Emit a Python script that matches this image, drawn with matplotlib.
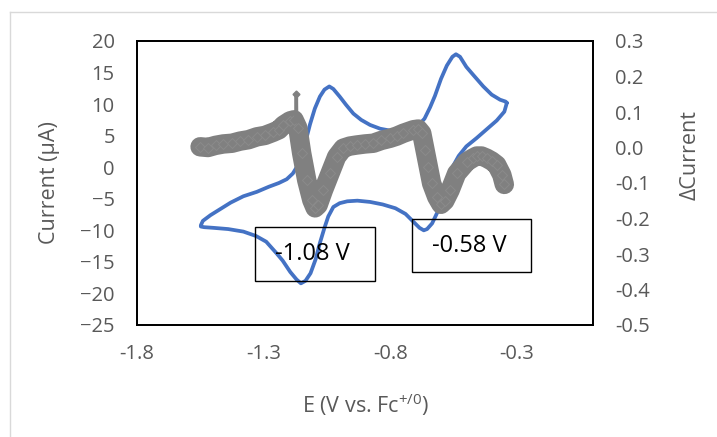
import numpy as np
import matplotlib
matplotlib.use('Agg')
import matplotlib.pyplot as plt
from matplotlib.patches import Rectangle
from matplotlib.lines import Line2D

plt.rcParams['font.family'] = ['Open Sans', 'DejaVu Sans']
plt.rcParams['mathtext.fontset'] = 'custom'
plt.rcParams['mathtext.rm'] = 'Open Sans'

# CV trace (E in V vs Fc, current in uA), cathodic sweep first then back
cv_E = [-0.340, -0.350, -0.380, -0.420, -0.460, -0.500, -0.530, -0.555, -0.575, -0.595,
        -0.615, -0.635, -0.655, -0.668, -0.685, -0.710, -0.740, -0.780, -0.830, -0.880,
        -0.930, -0.970, -1.000, -1.025, -1.045, -1.060, -1.078, -1.095, -1.115, -1.135,
        -1.153, -1.170, -1.195, -1.225, -1.250, -1.290, -1.330, -1.380, -1.440, -1.500,
        -1.535, -1.548,
        -1.548, -1.540, -1.510, -1.470, -1.430, -1.380, -1.327, -1.280, -1.240, -1.209,
        -1.185, -1.165, -1.150, -1.135, -1.117, -1.098, -1.078, -1.060, -1.041, -1.025,
        -1.000, -0.975, -0.946, -0.915, -0.880, -0.840, -0.800, -0.760, -0.720, -0.690,
        -0.665, -0.643, -0.624, -0.600, -0.577, -0.555, -0.541, -0.525, -0.500, -0.470,
        -0.433, -0.400, -0.367, -0.345, -0.340]
cv_I = [10.2, 8.8, 7.4, 6.0, 4.6, 3.3, 1.8, 0.0, -2.2, -4.8,
        -7.2, -8.9, -9.8, -10.0, -9.6, -8.6, -7.4, -6.5, -5.9, -5.5,
        -5.3, -5.4, -5.7, -6.3, -7.8, -9.6, -12.0, -14.6, -16.8, -18.0,
        -18.4, -17.8, -16.6, -14.8, -13.6, -11.8, -10.9, -10.2, -9.8, -9.6,
        -9.5, -9.4,
        -9.2, -8.5, -7.6, -6.6, -5.6, -4.6, -3.9, -3.1, -2.5, -1.9,
        -1.0, 0.3, 1.9, 4.0, 6.8, 9.3, 11.2, 12.3, 12.8, 12.4,
        11.2, 9.9, 8.5, 7.5, 6.7, 6.1, 5.8, 5.7, 6.0, 6.6,
        7.7, 9.5, 11.3, 14.0, 16.1, 17.5, 17.9, 17.5, 15.9, 14.5,
        12.8, 11.5, 10.7, 10.4, 10.2]

# derivative trace (delta current), read along the middle of the grey band
d_E = [-1.551, -1.520, -1.490, -1.459, -1.425, -1.393, -1.360, -1.327, -1.295, -1.262,
       -1.240, -1.222, -1.196, -1.180, -1.165, -1.150, -1.130, -1.110, -1.097, -1.085,
       -1.064, -1.038, -1.012, -0.986, -0.960, -0.933, -0.900, -0.867, -0.835, -0.801,
       -0.775, -0.749, -0.709, -0.690, -0.676, -0.663, -0.650, -0.637, -0.617, -0.600,
       -0.585, -0.564, -0.538, -0.498, -0.475, -0.459, -0.440, -0.420, -0.400, -0.380,
       -0.360, -0.350]
d_val = [0.002, 0.000, 0.006, 0.010, 0.012, 0.018, 0.022, 0.030, 0.034, 0.043,
         0.050, 0.063, 0.075, 0.078, 0.055, -0.016, -0.092, -0.148, -0.170, -0.162,
         -0.120, -0.073, -0.026, -0.002, 0.004, 0.007, 0.010, 0.012, 0.020, 0.026,
         0.032, 0.040, 0.050, 0.052, 0.040, -0.007, -0.054, -0.101, -0.139, -0.160,
         -0.150, -0.120, -0.073, -0.040, -0.030, -0.024, -0.024, -0.030, -0.038, -0.049,
         -0.077, -0.104]

# narrow spike just before the first drop
spike_E = [-1.172, -1.171, -1.170]
spike_val = [0.080, 0.150, 0.080]

labels = ['-1.08 V', '-0.58 V']
right_ticks = [-0.5, -0.4, -0.3, -0.2, -0.1, 0.0, 0.1, 0.2, 0.3]
right_labels = ['-0.5', '-0.4', '-0.3', '-0.2', '-0.1', '0.0', '0.1', '0.2', '0.3']

fig = plt.figure(figsize=(7.17, 4.37), dpi=100)
ax = fig.add_axes([137/717, 1-325/437, 456/717, 284/437])
ax2 = ax.twinx()

ax.plot(cv_E, cv_I, color='#4472C4', lw=2.7, solid_joinstyle='round',
        solid_capstyle='round', zorder=2)

grey = '#808080'
ax2.plot(d_E, d_val, color=grey, lw=14, solid_capstyle='round', solid_joinstyle='round')
ax2.plot(d_E, d_val, ls='none', marker='D', ms=5, mfc=grey, mec='#8c8c8c', mew=0.6)
ax2.plot(spike_E, spike_val, color=grey, lw=2.5, marker='D', ms=3.5, mfc=grey, mec=grey)

ax.set_xlim(-1.8, 0)
ax.set_ylim(-25, 20)
ax2.set_ylim(-0.5, 0.3)
ax.set_xticks([-1.8, -1.3, -0.8, -0.3])
ax.set_xticklabels(['-1.8', '-1.3', '-0.8', '-0.3'])
ax.set_yticks(np.arange(-25, 21, 5))
ax2.set_yticks(right_ticks)
ax2.set_yticklabels(right_labels)

tc = '#595959'
ax.tick_params(axis='both', length=0, labelsize=14.5, labelcolor=tc)
ax.tick_params(axis='y', pad=16)
ax.tick_params(axis='x', pad=14)
ax2.tick_params(axis='y', length=0, labelsize=14.5, labelcolor=tc, pad=16)

for a in (ax, ax2):
    for s in a.spines.values():
        s.set_color('black')
        s.set_linewidth(1.3)

ax.set_ylabel('Current (µA)', fontsize=15.5, color=tc)
ax.yaxis.set_label_coords(-0.168, 0.5)
ax2.set_ylabel('ΔCurrent', fontsize=15.5, color=tc, rotation=90)
ax2.yaxis.set_label_coords(1.19, 0.6)
ax.set_xlabel(r'E (V vs. Fc$^{\mathregular{+/0}}$)', fontsize=15.5, color=tc)
ax.xaxis.set_label_coords(0.5, -0.235)

# label boxes (axes fraction)
boxes = [(0.259, 0.156, 0.263, 0.190), (0.602, 0.185, 0.262, 0.188)]
for (bx, by, bw, bh), txt in zip(boxes, labels):
    ax2.add_patch(Rectangle((bx, by), bw, bh, transform=ax2.transAxes, fill=False,
                            ec='black', lw=1.0, zorder=5))
    ax2.text(bx + bw/2 - 0.005, by + bh/2, txt, transform=ax2.transAxes, ha='center',
             va='center', fontsize=17, color='black', zorder=6)

# light chart-area border
fig.add_artist(Line2D([10/717, 10/717], [0, 1-12/437], transform=fig.transFigure,
                      color='#d9d9d9', lw=1))
fig.add_artist(Line2D([10/717, 1], [1-12/437, 1-12/437], transform=fig.transFigure,
                      color='#d9d9d9', lw=1))

fig.savefig('out.png', dpi=100)
